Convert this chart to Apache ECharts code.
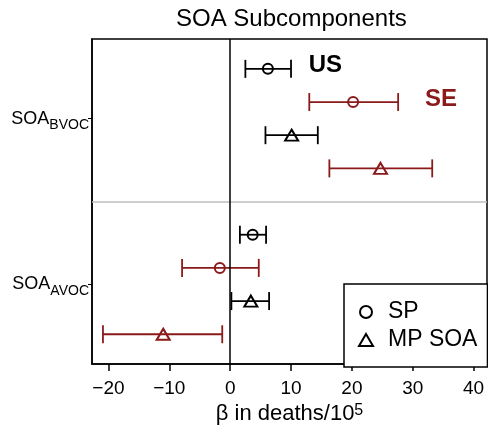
<!DOCTYPE html>
<html><head><meta charset="utf-8">
<script src="https://cdn.jsdelivr.net/npm/echarts@6/dist/echarts.min.js"></script>
<style>html,body{margin:0;padding:0;background:#fff}#c{width:488px;height:430px}</style>
</head><body><div id="c"></div>
<script>
const chartTitle = 'SOA Subcomponents';
const groups = ['BVOC', 'AVOC'];
const xTicks = [-20, -10, 0, 10, 20, 30, 40];
const methods = ['SP', 'MP SOA'];
const regions = ['US', 'SE'];
// values per group: [BVOC, AVOC]
const usSP = [6.2, 3.7],   usSPlo = [2.5, 1.6],   usSPhi = [10.0, 5.9];
const seSP = [20.2, -1.7], seSPlo = [13.0, -7.9], seSPhi = [27.6, 4.7];
const usMP = [10.1, 3.4],  usMPlo = [5.8, 0.2],   usMPhi = [14.4, 6.4];
const seMP = [24.7, -11.0], seMPlo = [16.3, -20.9], seMPhi = [33.2, -1.3];
const regionLabelX = [12.9, 32.0];

const BLACK = '#000000', RED = '#8b1a1a';
const FONT = '"Liberation Sans", Arial, Helvetica, sans-serif';

const entries = [
  {m: 0, r: 0, v: usSP, lo: usSPlo, hi: usSPhi},
  {m: 0, r: 1, v: seSP, lo: seSPlo, hi: seSPhi},
  {m: 1, r: 0, v: usMP, lo: usMPlo, hi: usMPhi},
  {m: 1, r: 1, v: seMP, lo: seMPlo, hi: seMPhi}
];
const errData = [], spData = [], mpData = [];
groups.forEach((g, gi) => {
  entries.forEach((e, k) => {
    const slot = gi * 5 + k + 1;
    const col = e.r === 0 ? BLACK : RED;
    errData.push([e.lo[gi], e.hi[gi], slot, e.r]);
    const pt = {value: [e.v[gi], slot], itemStyle: {borderColor: col}};
    (e.m === 0 ? spData : mpData).push(pt);
  });
});
const annotData = regions.map((r, i) => [regionLabelX[i], i + 1, i]);

const chart = echarts.init(document.getElementById('c'), null, {renderer: 'canvas'});
chart.setOption({
  animation: false,
  backgroundColor: '#fff',
  textStyle: {fontFamily: FONT},
  title: {
    text: chartTitle, left: 176, top: 7, padding: 0,
    textStyle: {fontSize: 24, fontWeight: 'normal', color: '#000', fontFamily: FONT}
  },
  grid: {left: 92, right: 1, top: 39, bottom: 63, show: true,
    borderColor: '#000', borderWidth: 1.5, backgroundColor: 'transparent'},
  legend: {
    orient: 'vertical', left: 344, top: 284,
    padding: [16, 10, 15, 14], itemGap: 4,
    itemWidth: 14, itemHeight: 12,
    backgroundColor: '#fff', borderColor: '#000', borderWidth: 1.5, borderRadius: 0,
    selectedMode: false,
    textStyle: {fontSize: 23, lineHeight: 24, color: '#000', fontFamily: FONT, padding: [0, 0, 0, 10]},
    data: [
      {name: methods[0], icon: 'circle', itemStyle: {color: 'rgba(0,0,0,0)', borderColor: '#000', borderWidth: 2, opacity: 1}},
      {name: methods[1], icon: 'triangle', itemStyle: {color: 'rgba(0,0,0,0)', borderColor: '#000', borderWidth: 2, opacity: 1}}
    ]
  },
  xAxis: {
    type: 'value', min: -22.7, max: 42.2,
    name: '{a|β in deaths/10}{s|5}', nameLocation: 'middle', nameGap: 36,
    nameTextStyle: {rich: {
      a: {fontSize: 22, lineHeight: 22, color: '#000', fontFamily: FONT},
      s: {fontSize: 16, lineHeight: 16, color: '#000', verticalAlign: 'top', fontFamily: FONT}
    }},
    axisLine: {show: true, onZero: false, lineStyle: {color: '#000', width: 1.5}},
    axisTick: {show: true, customValues: xTicks, length: 7, inside: false, lineStyle: {color: '#000', width: 1.5}},
    axisLabel: {customValues: xTicks, fontSize: 19, color: '#000', margin: 15, fontFamily: FONT,
      formatter: v => (v < 0 ? '\u2212' + Math.abs(v) : String(v))},
    splitLine: {show: false}
  },
  yAxis: {
    type: 'value', inverse: true, min: 0.1, max: 9.9,
    axisLine: {show: true, onZero: false, lineStyle: {color: '#000', width: 1.5}},
    axisTick: {show: true, customValues: [2.5, 7.5], length: 4, inside: false, lineStyle: {color: '#000', width: 1}},
    axisLabel: {
      customValues: [2.5, 7.5], margin: 3,
      formatter: v => '{a|SOA}{b|' + (v < 5 ? groups[0] : groups[1]) + '}',
      rich: {
        a: {fontSize: 18, lineHeight: 18, color: '#000', fontFamily: FONT},
        b: {fontSize: 14, lineHeight: 14, padding: [14, 0, 0, 0], color: '#000', fontFamily: FONT}
      }
    },
    splitLine: {show: false}
  },
  series: [
    {
      type: 'custom', name: 'err', data: errData, z: 3,
      encode: {x: [0, 1], y: 2},
      renderItem: (params, api) => {
        const y = api.value(2);
        const p1 = api.coord([api.value(0), y]);
        const p2 = api.coord([api.value(1), y]);
        const col = api.value(3) === 0 ? BLACK : RED;
        const st = {stroke: col, lineWidth: 1.8};
        const h = 9;
        return {type: 'group', children: [
          {type: 'line', shape: {x1: p1[0], y1: p1[1], x2: p2[0], y2: p2[1]}, style: st},
          {type: 'line', shape: {x1: p1[0], y1: p1[1] - h, x2: p1[0], y2: p1[1] + h}, style: st},
          {type: 'line', shape: {x1: p2[0], y1: p2[1] - h, x2: p2[0], y2: p2[1] + h}, style: st}
        ]};
      },
      markLine: {
        silent: true, symbol: ['none', 'none'], label: {show: false},
        data: [
          {yAxis: 5, lineStyle: {color: '#bebebe', width: 1.5, type: 'solid'}},
          {xAxis: 0, lineStyle: {color: '#000', width: 1.5, type: 'solid'}}
        ]
      }
    },
    {
      type: 'scatter', name: methods[0], data: spData, z: 5,
      symbol: 'circle', symbolSize: 10,
      itemStyle: {color: 'rgba(0,0,0,0)', borderColor: '#000', borderWidth: 2, opacity: 1}
    },
    {
      type: 'scatter', name: methods[1], data: mpData, z: 5,
      symbol: 'triangle', symbolSize: [13, 11],
      itemStyle: {color: 'rgba(0,0,0,0)', borderColor: '#000', borderWidth: 2, opacity: 1}
    },
    {
      type: 'custom', name: 'regions', data: annotData, z: 6, silent: true,
      encode: {x: 0, y: 1},
      renderItem: (params, api) => {
        const p = api.coord([api.value(0), api.value(1)]);
        const i = api.value(2);
        return {type: 'text', x: p[0], y: p[1] - 3, style: {
          text: regions[i], fill: i === 0 ? BLACK : RED,
          font: 'bold 24px ' + FONT, textAlign: 'left', textVerticalAlign: 'middle'
        }};
      }
    }
  ]
});
</script>
</body></html>
